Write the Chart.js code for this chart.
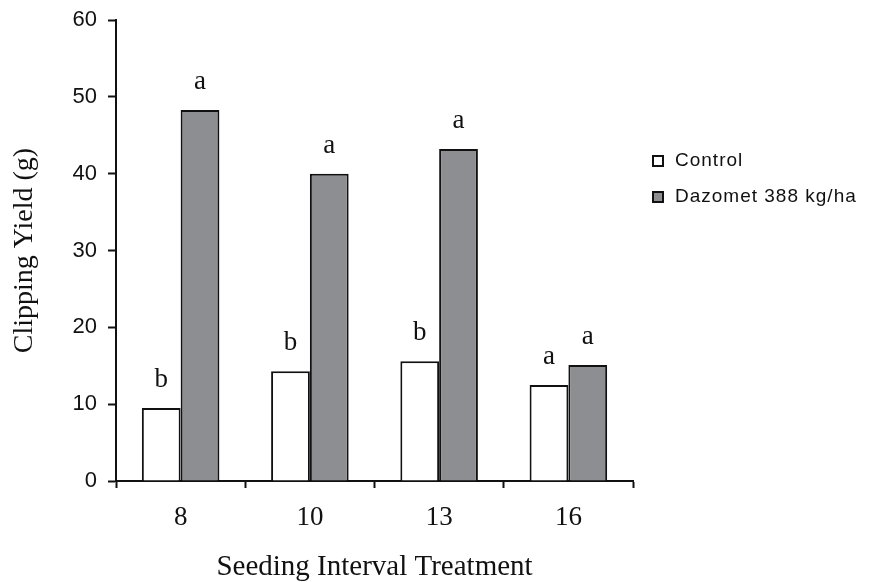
<!DOCTYPE html>
<html>
<head>
<meta charset="utf-8">
<script src="https://cdn.jsdelivr.net/npm/chart.js@4/dist/chart.umd.min.js"></script>
<style>
  html, body { margin: 0; padding: 0; background: #ffffff; }
  #wrap { width: 871px; height: 582px; }
</style>
</head>
<body>
<div id="wrap"><canvas id="c" width="871" height="582"></canvas></div>
<script>
// Seeding interval treatments and clipping yields (g)
const intervals = ['8', '10', '13', '16'];
const controlYield = [9.5, 14.3, 15.6, 12.5];
const dazometYield = [48.3, 40.0, 43.2, 15.1];
// Mean separation letters shown above each bar
const controlLetters = ['b', 'b', 'b', 'a'];
const dazometLetters = ['a', 'a', 'a', 'a'];
const yTicks = [0, 10, 20, 30, 40, 50, 60];

const serif = '"Liberation Serif", "DejaVu Serif", serif';
const sans = '"Liberation Sans", Arial, sans-serif';

// Letters drawn above each bar
const letterPlugin = {
  id: 'letters',
  afterDatasetsDraw(chart) {
    const ctx = chart.ctx;
    ctx.save();
    ctx.fillStyle = '#111';
    ctx.font = '27px ' + serif;
    ctx.textAlign = 'center';
    ctx.textBaseline = 'alphabetic';
    chart.data.datasets.forEach((ds, i) => {
      const meta = chart.getDatasetMeta(i);
      meta.data.forEach((bar, j) => {
        ctx.fillText(ds.letters[j], bar.x, bar.y - 21);
      });
    });
    ctx.restore();
  }
};

// Legend drawn at the right of the plot
const sideLegend = {
  id: 'sideLegend',
  afterDraw(chart) {
    const ctx = chart.ctx;
    ctx.save();
    ctx.font = '19px ' + sans;
    ctx.letterSpacing = '1px';
    ctx.textBaseline = 'middle';
    ctx.textAlign = 'left';
    chart.data.datasets.forEach((ds, i) => {
      const y = 161 + i * 36;
      ctx.fillStyle = ds.backgroundColor;
      ctx.strokeStyle = '#111';
      ctx.lineWidth = 2;
      ctx.fillRect(653, y - 5, 10, 10);
      ctx.strokeRect(653, y - 5, 10, 10);
      ctx.fillStyle = '#111';
      ctx.fillText(ds.label, 675, y);
    });
    ctx.restore();
  }
};

new Chart(document.getElementById('c'), {
  type: 'bar',
  data: {
    labels: intervals,
    datasets: [
      {
        label: 'Control',
        data: controlYield,
        letters: controlLetters,
        backgroundColor: '#ffffff',
        borderColor: '#111111',
        borderWidth: 2,
        borderSkipped: 'bottom'
      },
      {
        label: 'Dazomet 388 kg/ha',
        data: dazometYield,
        letters: dazometLetters,
        backgroundColor: '#8d8e91',
        borderColor: '#111111',
        borderWidth: 2,
        borderSkipped: 'bottom'
      }
    ]
  },
  options: {
    responsive: false,
    animation: false,
    devicePixelRatio: 1,
    layout: { padding: { top: 20, right: 238, bottom: 0, left: 0 } },
    plugins: {
      legend: { display: false },
      tooltip: { enabled: false }
    },
    datasets: {
      bar: { categoryPercentage: 0.6, barPercentage: 1.0 }
    },
    scales: {
      x: {
        offset: true,
        grid: {
          offset: true,
          drawOnChartArea: false,
          drawTicks: true,
          tickLength: 7,
          tickColor: '#111',
          tickWidth: 2
        },
        border: { display: true, color: '#111', width: 2 },
        ticks: {
          color: '#111',
          font: { family: serif, size: 27 },
          padding: 14
        },
        title: {
          display: true,
          text: 'Seeding Interval Treatment',
          color: '#111',
          font: { family: serif, size: 29, lineHeight: 1.0 },
          padding: { top: 0, bottom: 0 }
        },
        afterFit(scale) { scale.height = 101; }
      },
      y: {
        min: 0,
        max: 60,
        afterBuildTicks(scale) { scale.ticks = yTicks.map(v => ({ value: v })); },
        grid: {
          drawOnChartArea: false,
          drawTicks: true,
          tickLength: 8,
          tickColor: '#111',
          tickWidth: 2
        },
        border: { display: true, color: '#111', width: 2 },
        ticks: {
          color: '#111',
          font: { family: sans, size: 22 },
          padding: 11
        },
        title: {
          display: true,
          text: 'Clipping Yield (g)',
          color: '#111',
          font: { family: serif, size: 28 },
          padding: { top: 8, bottom: 0 }
        },
        afterFit(scale) {
          scale.width = 116;
          scale.paddingTop = 0;
          scale.paddingBottom = 0;
        }
      }
    }
  },
  plugins: [letterPlugin, sideLegend]
});
</script>
</body>
</html>
